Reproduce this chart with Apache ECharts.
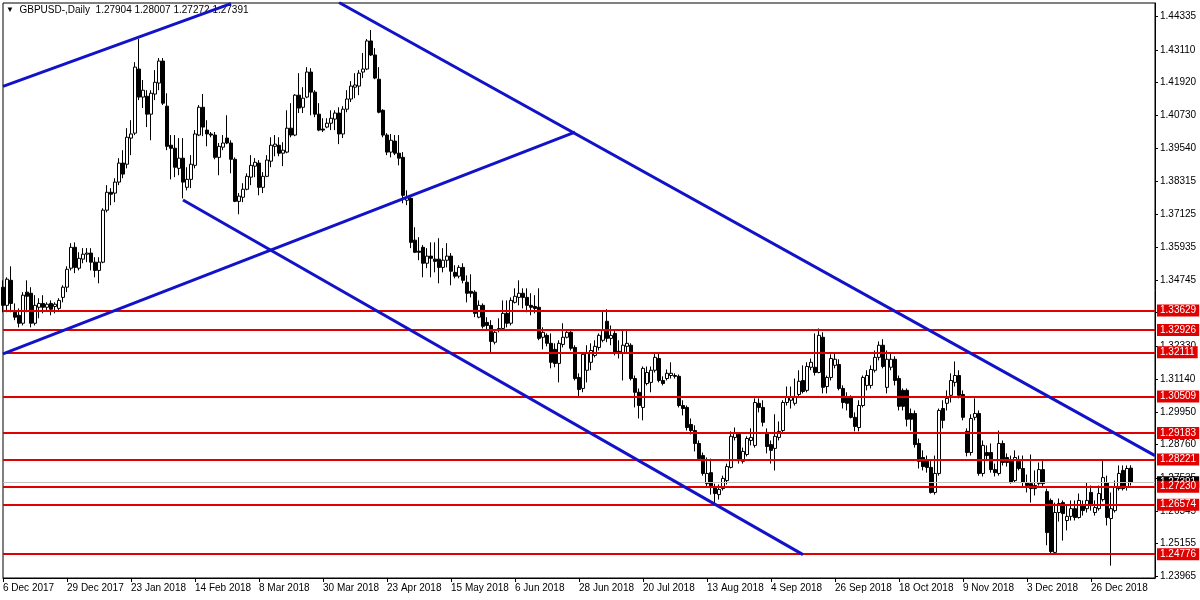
<!DOCTYPE html>
<html><head><meta charset="utf-8">
<script src="https://cdn.jsdelivr.net/npm/echarts@6/dist/echarts.min.js"></script>
<style>html,body{margin:0;padding:0;background:#fff}#c{width:1200px;height:600px}</style>
</head><body><div id="c"></div>
<script>
const symbolName = 'GBPUSD-,Daily';
const lastQuote = [1.27904, 1.28007, 1.27272, 1.27391];
const startDate = '2017-12-06';
const marketHolidays = ['2017-12-25', '2018-01-01', '2018-12-25', '2019-01-01'];
const emptyBarsRight = 6;
const labelEvery = 16;

const opens = [
1.3448,1.3382,1.3473,1.3357,1.3346,1.3317,1.3430,1.3426,1.3317,1.3375,
1.3389,1.3375,1.3389,1.3378,1.3371,1.3411,1.3448,1.3517,1.3593,1.3517,
1.3550,1.3568,1.3572,1.3539,1.3509,1.3539,1.3728,1.3793,1.3790,1.3830,
1.3899,1.3895,1.3990,1.4008,1.4241,1.4139,1.4142,1.4077,1.4150,1.4190,
1.4270,1.4106,1.3964,1.3953,1.3880,1.3917,1.3811,1.3840,1.3891,1.4001,
1.4102,1.4019,1.4005,1.4001,1.3920,1.3957,1.3990,1.3972,1.3913,1.3760,
1.3775,1.3804,1.3848,1.3888,1.3899,1.3811,1.3851,1.3906,1.3960,1.3964,
1.3935,1.3939,1.4026,1.4001,1.4146,1.4102,1.4139,1.4230,1.4157,1.4077,
1.4023,1.4030,1.4044,1.4059,1.4081,1.4005,1.4095,1.4132,1.4175,1.4179,
1.4230,1.4241,1.4343,1.4292,1.4204,1.4091,1.4001,1.3939,1.3979,1.3935,
1.3920,1.3764,1.3771,1.3619,1.3579,1.3593,1.3535,1.3561,1.3550,1.3550,
1.3520,1.3546,1.3561,1.3502,1.3488,1.3520,1.3466,1.3433,1.3430,1.3339,
1.3382,1.3320,1.3309,1.3248,1.3291,1.3298,1.3353,1.3317,1.3393,1.3411,
1.3426,1.3411,1.3382,1.3378,1.3375,1.3266,1.3273,1.3244,1.3222,1.3171,
1.3240,1.3266,1.3284,1.3229,1.3120,1.3080,1.3146,1.3175,1.3200,1.3229,
1.3255,1.3324,1.3262,1.3280,1.3215,1.3207,1.3233,1.3237,1.3116,1.3066,
1.3011,1.3098,1.3102,1.3146,1.3189,1.3109,1.3116,1.3127,1.3127,1.3124,
1.3018,1.3011,1.2949,1.2927,1.2880,1.2836,1.2734,1.2774,1.2720,1.2694,
1.2716,1.2745,1.2793,1.2902,1.2913,1.2815,1.2840,1.2891,1.2873,1.3026,
1.3011,1.2920,1.2876,1.2862,1.2902,1.2927,1.3029,1.3037,1.3026,1.3058,
1.3109,1.3073,1.3157,1.3157,1.3138,1.3266,1.3087,1.3120,1.3164,1.3167,
1.3080,1.3048,1.3048,1.2975,1.2938,1.3018,1.3091,1.3091,1.3146,1.3193,
1.3237,1.3084,1.3157,1.3186,1.3116,1.3073,1.3073,1.2989,1.2989,1.2880,
1.2829,1.2818,1.2793,1.2702,1.2771,1.3007,1.3026,1.3055,1.3102,1.3127,
1.3058,1.2924,1.2847,1.2975,1.2989,1.2771,1.2847,1.2847,1.2785,1.2771,
1.2880,1.2829,1.2818,1.2745,1.2822,1.2789,1.2738,1.2734,1.2727,1.2734,
1.2785,1.2705,1.2673,1.2484,1.2629,1.2665,1.2600,1.2615,1.2643,1.2611,
1.2654,1.2643,1.2702,1.2629,1.2643,1.2676,1.2738,1.2607,1.2636,1.2716,
1.2782,1.2720,1.27904];

const highs = [
1.3473,1.3484,1.3524,1.3389,1.3371,1.3430,1.3473,1.3448,1.3419,1.3408,
1.3419,1.3393,1.3400,1.3393,1.3408,1.3455,1.3524,1.3608,1.3611,1.3575,
1.3590,1.3590,1.3590,1.3557,1.3557,1.3735,1.3819,1.3808,1.3844,1.3917,
1.3946,1.4026,1.4055,1.4266,1.4350,1.4201,1.4164,1.4164,1.4237,1.4281,
1.4281,1.4153,1.4001,1.4001,1.3990,1.3990,1.3884,1.3928,1.4019,1.4110,
1.4150,1.4055,1.4012,1.4012,1.3972,1.4001,1.4073,1.3982,1.3920,1.3790,
1.3826,1.3862,1.3928,1.3917,1.3910,1.3866,1.3928,1.3993,1.4001,1.3993,
1.3975,1.4091,1.4117,1.4150,1.4226,1.4175,1.4248,1.4244,1.4164,1.4117,
1.4062,1.4062,1.4091,1.4091,1.4102,1.4106,1.4164,1.4197,1.4226,1.4237,
1.4299,1.4350,1.4383,1.4317,1.4248,1.4095,1.4008,1.4005,1.4001,1.4001,
1.3939,1.3800,1.3775,1.3666,1.3630,1.3601,1.3590,1.3611,1.3611,1.3626,
1.3590,1.3608,1.3572,1.3528,1.3528,1.3535,1.3491,1.3495,1.3437,1.3400,
1.3389,1.3339,1.3328,1.3291,1.3335,1.3400,1.3400,1.3411,1.3444,1.3473,
1.3444,1.3444,1.3426,1.3419,1.3444,1.3302,1.3280,1.3280,1.3244,1.3255,
1.3317,1.3291,1.3291,1.3237,1.3135,1.3211,1.3237,1.3244,1.3255,1.3280,
1.3364,1.3368,1.3309,1.3291,1.3255,1.3291,1.3291,1.3244,1.3127,1.3080,
1.3160,1.3160,1.3160,1.3207,1.3207,1.3124,1.3149,1.3175,1.3135,1.3131,
1.3037,1.3018,1.2971,1.2946,1.2891,1.2847,1.2829,1.2825,1.2734,1.2731,
1.2763,1.2807,1.2924,1.2938,1.2920,1.2865,1.2906,1.2935,1.3044,1.3044,
1.3037,1.2935,1.2891,1.2986,1.2960,1.3037,1.3087,1.3087,1.3116,1.3146,
1.3164,1.3175,1.3189,1.3280,1.3298,1.3284,1.3127,1.3204,1.3211,1.3186,
1.3091,1.3066,1.3055,1.2993,1.3037,1.3127,1.3146,1.3164,1.3218,1.3251,
1.3259,1.3218,1.3207,1.3197,1.3127,1.3080,1.3080,1.3007,1.3000,1.2898,
1.2855,1.2836,1.2818,1.2836,1.3007,1.3037,1.3073,1.3135,1.3178,1.3146,
1.3073,1.2935,1.2986,1.3044,1.3000,1.2891,1.2873,1.2880,1.2807,1.2927,
1.2891,1.2844,1.2836,1.2855,1.2836,1.2836,1.2767,1.2840,1.2782,1.2811,
1.2818,1.2716,1.2680,1.2665,1.2680,1.2673,1.2654,1.2673,1.2673,1.2698,
1.2673,1.2738,1.2727,1.2673,1.2727,1.2818,1.2763,1.2702,1.2745,1.2800,
1.2800,1.2800,1.28007];

const lows = [
1.3357,1.3357,1.3357,1.3328,1.3302,1.3309,1.3357,1.3302,1.3309,1.3335,
1.3353,1.3364,1.3346,1.3353,1.3364,1.3393,1.3430,1.3509,1.3499,1.3509,
1.3535,1.3539,1.3509,1.3484,1.3462,1.3535,1.3720,1.3746,1.3757,1.3819,
1.3844,1.3880,1.3928,1.4001,1.4128,1.4099,1.4030,1.3982,1.4128,1.4164,
1.4110,1.3946,1.3840,1.3848,1.3855,1.3771,1.3800,1.3808,1.3880,1.3997,
1.3997,1.3960,1.3993,1.3913,1.3855,1.3946,1.3968,1.3862,1.3757,1.3713,
1.3757,1.3800,1.3819,1.3848,1.3782,1.3790,1.3848,1.3884,1.3924,1.3924,
1.3888,1.3935,1.3993,1.3997,1.4081,1.4081,1.4135,1.4073,1.4066,1.4015,
1.4012,1.4026,1.4019,1.4019,1.3968,1.3990,1.4084,1.4121,1.4135,1.4146,
1.4208,1.4237,1.4288,1.4204,1.4080,1.3993,1.3928,1.3920,1.3928,1.3891,
1.3753,1.3746,1.3590,1.3572,1.3546,1.3484,1.3517,1.3484,1.3502,1.3462,
1.3502,1.3520,1.3455,1.3480,1.3480,1.3462,1.3393,1.3411,1.3339,1.3335,
1.3298,1.3291,1.3207,1.3240,1.3284,1.3291,1.3302,1.3309,1.3389,1.3382,
1.3371,1.3357,1.3346,1.3353,1.3255,1.3222,1.3233,1.3153,1.3157,1.3102,
1.3229,1.3262,1.3218,1.3109,1.3051,1.3066,1.3102,1.3146,1.3193,1.3218,
1.3248,1.3248,1.3237,1.3200,1.3189,1.3109,1.3211,1.3109,1.3011,1.2971,
1.2964,1.3091,1.3066,1.3138,1.3102,1.3091,1.3109,1.3116,1.3116,1.3011,
1.2982,1.2927,1.2913,1.2851,1.2818,1.2763,1.2720,1.2694,1.2662,1.2676,
1.2709,1.2731,1.2789,1.2891,1.2807,1.2807,1.2833,1.2873,1.2865,1.2993,
1.2942,1.2844,1.2807,1.2782,1.2891,1.2920,1.3018,1.3007,1.3018,1.3048,
1.3062,1.3066,1.3146,1.3127,1.3135,1.3062,1.3062,1.3109,1.3153,1.3073,
1.3007,1.3000,1.2971,1.2924,1.2924,1.3011,1.3073,1.3080,1.3138,1.3182,
1.3153,1.3062,1.3146,1.3091,1.3000,1.3000,1.2942,1.2927,1.2865,1.2789,
1.2782,1.2774,1.2698,1.2694,1.2763,1.2935,1.3000,1.3029,1.3087,1.3044,
1.2964,1.2833,1.2836,1.2964,1.2763,1.2760,1.2818,1.2774,1.2760,1.2763,
1.2800,1.2796,1.2734,1.2738,1.2782,1.2720,1.2702,1.2665,1.2691,1.2727,
1.2720,1.2510,1.2480,1.2476,1.2596,1.2527,1.2564,1.2600,1.2600,1.2607,
1.2618,1.2629,1.2636,1.2618,1.2636,1.2669,1.2582,1.2436,1.2629,1.2709,
1.2709,1.2709,1.27272];

const closes = [
1.3382,1.3477,1.3389,1.3339,1.3317,1.3419,1.3415,1.3317,1.3382,1.3389,
1.3375,1.3386,1.3368,1.3386,1.3400,1.3448,1.3513,1.3593,1.3520,1.3553,
1.3568,1.3572,1.3539,1.3509,1.3539,1.3728,1.3793,1.3786,1.3830,1.3899,
1.3859,1.3993,1.4005,1.4248,1.4139,1.4164,1.4077,1.4153,1.4193,1.4270,
1.4117,1.3960,1.3953,1.3884,1.3917,1.3830,1.3840,1.3895,1.4005,1.4102,
1.4030,1.4005,1.4001,1.3920,1.3960,1.3972,1.3972,1.3913,1.3760,1.3779,
1.3804,1.3851,1.3891,1.3902,1.3811,1.3851,1.3910,1.3964,1.3968,1.3935,
1.3946,1.4026,1.4001,1.4146,1.4099,1.4135,1.4230,1.4157,1.4077,1.4019,
1.4019,1.4044,1.4062,1.4081,1.4005,1.4095,1.4132,1.4179,1.4183,1.4226,
1.4241,1.4343,1.4292,1.4208,1.4084,1.4001,1.3939,1.3982,1.3935,1.3917,
1.3782,1.3775,1.3611,1.3575,1.3575,1.3535,1.3561,1.3553,1.3542,1.3520,
1.3546,1.3561,1.3506,1.3488,1.3520,1.3473,1.3426,1.3426,1.3353,1.3382,
1.3306,1.3309,1.3251,1.3284,1.3298,1.3353,1.3317,1.3400,1.3415,1.3426,
1.3411,1.3382,1.3375,1.3371,1.3262,1.3284,1.3244,1.3175,1.3171,1.3244,
1.3266,1.3284,1.3226,1.3116,1.3076,1.3204,1.3207,1.3218,1.3233,1.3273,
1.3291,1.3262,1.3273,1.3207,1.3207,1.3237,1.3244,1.3116,1.3066,1.3018,
1.3153,1.3138,1.3146,1.3193,1.3109,1.3098,1.3135,1.3135,1.3124,1.3018,
1.3007,1.2938,1.2927,1.2880,1.2825,1.2771,1.2771,1.2720,1.2698,1.2713,
1.2753,1.2796,1.2906,1.2916,1.2818,1.2851,1.2898,1.2902,1.3029,1.3011,
1.2957,1.2869,1.2855,1.2906,1.2924,1.3029,1.3048,1.3048,1.3051,1.3106,
1.3069,1.3160,1.3175,1.3138,1.3273,1.3084,1.3120,1.3189,1.3186,1.3080,
1.3029,1.3026,1.2975,1.2942,1.3018,1.3120,1.3127,1.3149,1.3193,1.3237,
1.3160,1.3186,1.3186,1.3109,1.3015,1.3015,1.2968,1.2968,1.2876,1.2815,
1.2796,1.2793,1.2702,1.2771,1.3000,1.2964,1.3044,1.3109,1.3127,1.3055,
1.2975,1.2847,1.2971,1.2989,1.2771,1.2873,1.2836,1.2785,1.2774,1.2880,
1.2811,1.2811,1.2738,1.2829,1.2789,1.2738,1.2727,1.2716,1.2716,1.2785,
1.2734,1.2556,1.2487,1.2629,1.2662,1.2625,1.2615,1.2643,1.2611,1.2673,
1.2636,1.2673,1.2654,1.2647,1.2698,1.2756,1.2611,1.2643,1.2720,1.2771,
1.2716,1.2789,1.27391];

const yTickValues = [1.44335, 1.43110, 1.41920, 1.40730, 1.39540, 1.38315, 1.37125, 1.35935, 1.34745,
  1.33555, 1.32330, 1.31140, 1.29950, 1.28760, 1.27535, 1.26345, 1.25155, 1.23965];
const levelLines = [1.33629, 1.32926, 1.32111, 1.30509, 1.29183, 1.28221, 1.27230, 1.26574, 1.24776];
const bidPrice = 1.27391;
const priceMin = 1.2391, priceMax = 1.4481;

// trend lines: [bar index, price]
const trendUpperRise = [[0, 1.4178], [57, 1.4479]];
const trendLowerRise = [[0, 1.3206], [143, 1.4012]];
const trendUpperFall = [[84, 1.4483], [288, 1.2836]];
const trendLowerFall = [[45, 1.3765], [200, 1.2476]];

// trading-day calendar
const monthNames = ['Jan','Feb','Mar','Apr','May','Jun','Jul','Aug','Sep','Oct','Nov','Dec'];
const categories = [];
(function () {
  const d = new Date(startDate + 'T00:00:00Z');
  const total = opens.length + emptyBarsRight;
  while (categories.length < total) {
    const wd = d.getUTCDay();
    const iso = d.toISOString().slice(0, 10);
    if (wd !== 0 && wd !== 6 && marketHolidays.indexOf(iso) < 0) {
      categories.push(d.getUTCDate() + ' ' + monthNames[d.getUTCMonth()] + ' ' + d.getUTCFullYear());
    }
    d.setUTCDate(d.getUTCDate() + 1);
  }
})();

const nBars = opens.length;
const candleData = opens.map((o, i) => [o, closes[i], lows[i], highs[i]]);
const FONT = "'Liberation Sans', 'DejaVu Sans', sans-serif";
const RED = '#e00000';
const BLUE = '#1212c8';
const showIdx = (idx) => idx % labelEvery === 0 && idx < nBars;

const levelLabel = (bg) => ({
  show: true, position: 'end', distance: 2,
  formatter: (p) => Number(p.value).toFixed(5),
  color: '#fff', backgroundColor: bg, padding: [1, 3, 1, 3],
  fontSize: 10, fontFamily: FONT
});

const markData = [{
  yAxis: bidPrice,
  lineStyle: { color: '#c0c0c0', width: 1, type: 'solid' },
  label: levelLabel('#000')
}].concat(levelLines.map(v => ({
  yAxis: v,
  lineStyle: { color: RED, width: 2, type: 'solid' },
  label: levelLabel(RED)
})));

const trendSeries = (data) => ({
  type: 'line', data: data, symbol: 'none', silent: true, z: 6,
  lineStyle: { color: BLUE, width: 3 }, clip: true, animation: false
});

const chart = echarts.init(document.getElementById('c'), null, { renderer: 'canvas' });
chart.setOption({
  animation: false,
  backgroundColor: '#fff',
  title: {
    text: '{t|▼}  ' + symbolName + '  ' + lastQuote.map(v => v.toFixed(5)).join(' '),
    left: 6, top: 5, padding: 0, z: 1,
    textStyle: {
      fontSize: 10, fontWeight: 'normal', color: '#000', fontFamily: FONT,
      rich: { t: { fontSize: 8, color: '#000' } }
    }
  },
  grid: { left: 3, right: 45, top: 3, bottom: 22, show: true, borderColor: '#000', borderWidth: 1, backgroundColor: '#fff' },
  xAxis: {
    type: 'category', data: categories, boundaryGap: false,
    axisLine: { show: true, lineStyle: { color: '#000', width: 1 } },
    axisTick: { show: true, interval: showIdx, length: 4, lineStyle: { color: '#000' } },
    axisLabel: { interval: showIdx, align: 'left', color: '#000', fontSize: 10, margin: 5, fontFamily: FONT },
    splitLine: { show: false }
  },
  yAxis: {
    type: 'value', position: 'right', min: priceMin, max: priceMax,
    axisLine: { show: true, lineStyle: { color: '#000', width: 1 } },
    axisTick: { show: true, customValues: yTickValues, length: 3, lineStyle: { color: '#000' } },
    axisLabel: { customValues: yTickValues, formatter: v => Number(v).toFixed(5), color: '#000', fontSize: 10, margin: 5, fontFamily: FONT },
    splitLine: { show: false }
  },
  series: [
    {
      type: 'candlestick', data: candleData, barWidth: 3, z: 3, silent: true,
      itemStyle: { color: '#fff', color0: '#000', borderColor: '#000', borderColor0: '#000', borderColorDoji: '#000', borderWidth: 1 },
      markLine: { silent: true, precision: 5, symbol: ['none', 'none'], animation: false, data: markData, z: 4 }
    },
    trendSeries(trendUpperRise),
    trendSeries(trendLowerRise),
    trendSeries(trendUpperFall),
    trendSeries(trendLowerFall)
  ]
});
</script>
</body></html>
